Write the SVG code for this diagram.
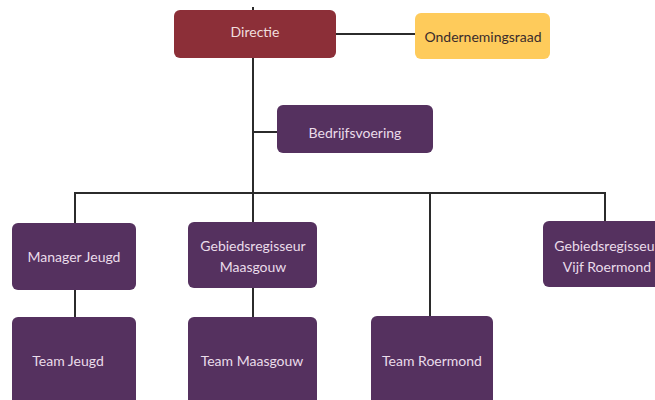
<svg xmlns="http://www.w3.org/2000/svg" width="655" height="400" viewBox="0 0 655 400">
<style>
.box{fill:#55315f}
.t{font-family:Lato,"Liberation Sans",sans-serif;font-size:14px;fill:#eadcea;text-anchor:middle}
.c{stroke:#2b2b2b;stroke-width:2;fill:none}
</style>
<rect width="655" height="400" fill="#ffffff"/>
<g id="connectors">
<line class="c" x1="253" y1="7" x2="253" y2="194"/>
<line class="c" x1="336" y1="34" x2="415" y2="34"/>
<line class="c" x1="253" y1="132" x2="277" y2="132"/>
<polyline class="c" points="75,223 75,193 605,193 605,222"/>
<line class="c" x1="253" y1="193" x2="253" y2="222"/>
<line class="c" x1="430" y1="193" x2="430" y2="316"/>
<line class="c" x1="75" y1="290" x2="75" y2="317"/>
<line class="c" x1="253" y1="288" x2="253" y2="317"/>
</g>
<g id="directie">
<rect x="174" y="10" width="162" height="48" rx="6" fill="#8c2f38"/>
<text class="t" x="255" y="37" fill="#f0dede" style="fill:#f0dede">Directie</text>
</g>
<g id="ondernemingsraad">
<rect x="415" y="13" width="135" height="46" rx="6" fill="#fecb5b"/>
<text class="t" x="483" y="42" style="fill:#3a2c2c">Ondernemingsraad</text>
</g>
<g id="bedrijfsvoering">
<rect class="box" x="277" y="105" width="156" height="48" rx="6"/>
<text class="t" x="355" y="138">Bedrijfsvoering</text>
</g>
<g id="manager-jeugd">
<rect class="box" x="12" y="223" width="124" height="67" rx="6"/>
<text class="t" x="74" y="262">Manager Jeugd</text>
</g>
<g id="gebiedsregisseur-maasgouw">
<rect class="box" x="188" y="222" width="129" height="66" rx="6"/>
<text class="t" x="253" y="251">Gebiedsregisseur</text>
<text class="t" x="253" y="272">Maasgouw</text>
</g>
<g id="gebiedsregisseur-vijf-roermond">
<rect class="box" x="543" y="221" width="129" height="66" rx="6"/>
<text class="t" x="607" y="251">Gebiedsregisseur</text>
<text class="t" x="607" y="272">Vijf Roermond</text>
</g>
<g id="team-jeugd">
<rect class="box" x="12" y="317" width="124" height="95" rx="6"/>
<text class="t" x="68" y="366">Team Jeugd</text>
</g>
<g id="team-maasgouw">
<rect class="box" x="188" y="317" width="129" height="95" rx="6"/>
<text class="t" x="252" y="366">Team Maasgouw</text>
</g>
<g id="team-roermond">
<rect class="box" x="371" y="316" width="122" height="96" rx="6"/>
<text class="t" x="432" y="366">Team Roermond</text>
</g>
</svg>
